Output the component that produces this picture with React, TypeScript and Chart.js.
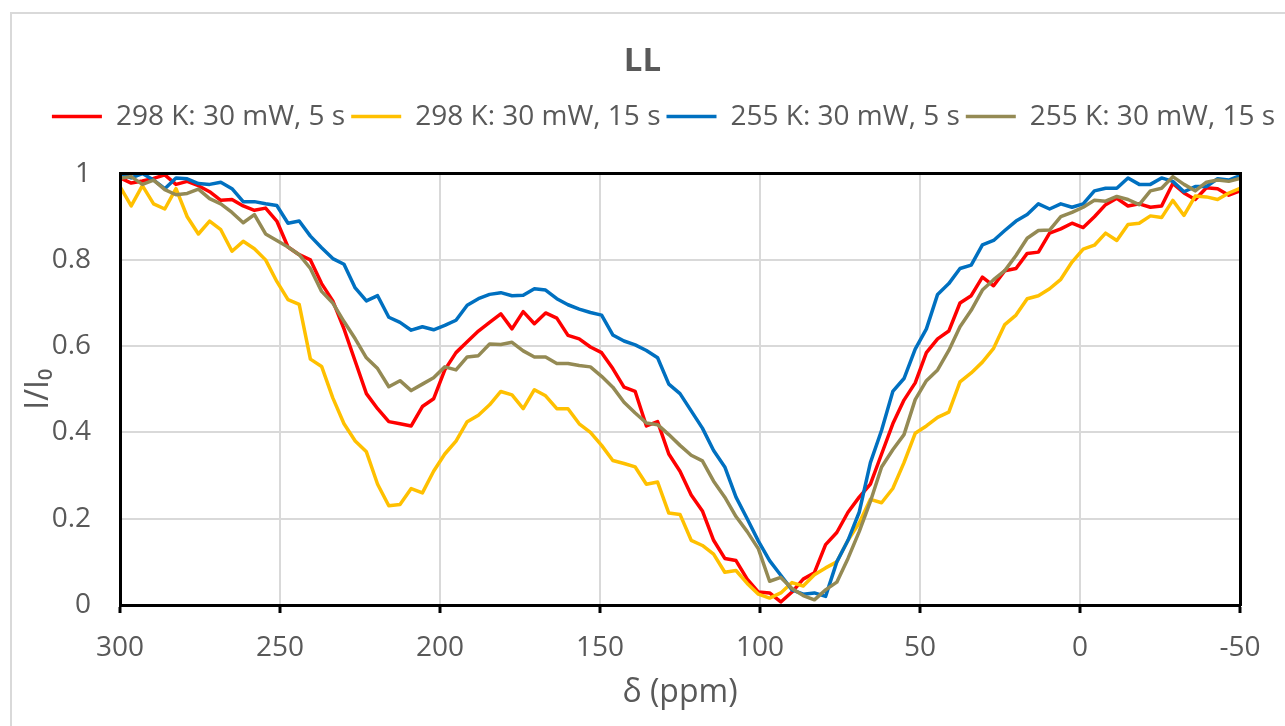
import { useEffect, useRef } from "react";
import { Chart, registerables } from "chart.js";

Chart.register(...registerables);
Chart.defaults.font.family = "'Open Sans', sans-serif";

// Chemical shift grid (ppm), high to low
const shifts = [
  300, 296.5, 293, 289.5, 286, 282.5, 279, 275.5, 272, 268.5,
  265, 261.5, 258, 254.5, 251, 247.5, 244, 240.5, 237, 233.5,
  230, 226.5, 223, 219.5, 216, 212.5, 209, 205.5, 202, 198.5,
  195, 191.5, 188, 184.5, 181, 177.5, 174, 170.5, 167, 163.5,
  160, 156.5, 153, 149.5, 146, 142.5, 139, 135.5, 132, 128.5,
  125, 121.5, 118, 114.5, 111, 107.5, 104, 100.5, 97, 93.5,
  90, 86.5, 83, 79.5, 76, 72.5, 69, 65.5, 62, 58.5,
  55, 51.5, 48, 44.5, 41, 37.5, 34, 30.5, 27, 23.5,
  20, 16.5, 13, 9.5, 6, 2.5, -1, -4.5, -8, -11.5,
  -15, -18.5, -22, -25.5, -29, -32.5, -36, -39.5, -43, -46.5,
  -50,
];

// I/I0 at 298 K, 30 mW, 5 s
const k298s5 = [
  0.99, 0.978, 0.983, 0.989, 0.997, 0.975, 0.982, 0.972, 0.958, 0.938,
  0.94, 0.925, 0.915, 0.92, 0.89, 0.83, 0.812, 0.8, 0.745, 0.705,
  0.64, 0.565, 0.49, 0.455, 0.425, 0.42, 0.415, 0.46, 0.478, 0.545,
  0.585, 0.61, 0.635, 0.655, 0.675, 0.64, 0.68, 0.652, 0.677, 0.665,
  0.625, 0.617, 0.598, 0.585, 0.548, 0.505, 0.495, 0.415, 0.425, 0.35,
  0.31, 0.255, 0.218, 0.15, 0.108, 0.103, 0.06, 0.03, 0.028, 0.007,
  0.03, 0.06, 0.075, 0.14, 0.168, 0.215, 0.25, 0.28, 0.35, 0.42,
  0.475, 0.515, 0.585, 0.617, 0.635, 0.7, 0.717, 0.76, 0.74, 0.775,
  0.78, 0.815, 0.818, 0.862, 0.872, 0.885, 0.875, 0.9, 0.928, 0.943,
  0.925, 0.93, 0.922, 0.925, 0.977, 0.955, 0.94, 0.967, 0.965, 0.95,
  0.96,
];

// I/I0 at 298 K, 30 mW, 15 s
const k298s15 = [
  0.97, 0.925, 0.972, 0.93, 0.918, 0.965, 0.9, 0.86, 0.89, 0.87,
  0.82, 0.843, 0.826, 0.8, 0.75, 0.708, 0.697, 0.57, 0.553, 0.48,
  0.42, 0.38, 0.355, 0.28, 0.23, 0.233, 0.27, 0.26, 0.31, 0.35,
  0.38, 0.425, 0.44, 0.464, 0.495, 0.487, 0.455, 0.499, 0.485, 0.455,
  0.455, 0.42, 0.4, 0.37, 0.335, 0.328, 0.32, 0.28, 0.285, 0.213,
  0.21, 0.15, 0.138, 0.118, 0.076, 0.08, 0.05, 0.025, 0.016, 0.028,
  0.052, 0.044, 0.07, 0.086, 0.1, 0.15, 0.19, 0.245, 0.237, 0.27,
  0.33, 0.398, 0.415, 0.435, 0.447, 0.517, 0.538, 0.563, 0.595, 0.65,
  0.672, 0.71, 0.717, 0.733, 0.755, 0.795, 0.825, 0.834, 0.862, 0.845,
  0.882, 0.885, 0.902, 0.898, 0.938, 0.903, 0.948, 0.946, 0.94, 0.955,
  0.966,
];

// I/I0 at 255 K, 30 mW, 5 s
const k255s5 = [
  1.0, 0.99, 1.0, 0.985, 0.965, 0.99, 0.988, 0.977, 0.975, 0.98,
  0.965, 0.935, 0.935, 0.93, 0.926, 0.885, 0.89, 0.855, 0.828, 0.803,
  0.79, 0.735, 0.705, 0.717, 0.667, 0.655, 0.637, 0.645, 0.638, 0.648,
  0.66, 0.695, 0.71, 0.72, 0.724, 0.717, 0.718, 0.733, 0.73, 0.71,
  0.696, 0.686, 0.678, 0.672, 0.626, 0.612, 0.603, 0.59, 0.573, 0.512,
  0.49, 0.45, 0.41, 0.358, 0.32, 0.25, 0.2, 0.148, 0.103, 0.069,
  0.035, 0.025, 0.028, 0.02, 0.1, 0.15, 0.215, 0.33, 0.405, 0.495,
  0.525, 0.593, 0.64, 0.72, 0.745, 0.78, 0.788, 0.835, 0.845, 0.868,
  0.89, 0.905, 0.93, 0.918, 0.93, 0.922, 0.93, 0.96, 0.966, 0.966,
  0.99, 0.975, 0.975, 0.99, 0.982, 0.958, 0.97, 0.97, 0.988, 0.985,
  0.995,
];

// I/I0 at 255 K, 30 mW, 15 s
const k255s15 = [
  0.989, 0.993, 0.975, 0.985, 0.963, 0.951, 0.954, 0.964, 0.942, 0.93,
  0.91, 0.886, 0.905, 0.86, 0.845, 0.83, 0.812, 0.78, 0.727, 0.7,
  0.657, 0.617, 0.573, 0.548, 0.506, 0.52, 0.497, 0.512, 0.527, 0.552,
  0.545, 0.575, 0.578, 0.605, 0.604, 0.609, 0.589, 0.575, 0.575, 0.56,
  0.56, 0.555, 0.552, 0.53, 0.505, 0.47, 0.445, 0.422, 0.418, 0.395,
  0.37, 0.347, 0.334, 0.287, 0.25, 0.205, 0.17, 0.13, 0.055, 0.064,
  0.038, 0.022, 0.012, 0.035, 0.053, 0.108, 0.17, 0.24, 0.32, 0.36,
  0.395, 0.476, 0.52, 0.545, 0.59, 0.645, 0.683, 0.73, 0.754, 0.775,
  0.81, 0.85, 0.868, 0.869, 0.9, 0.91, 0.922, 0.938, 0.936, 0.947,
  0.94, 0.928, 0.96, 0.966, 0.993, 0.975, 0.96, 0.98, 0.985, 0.982,
  0.989,
];

const seriesLabels = [
  "298 K: 30 mW, 5 s",
  "298 K: 30 mW, 15 s",
  "255 K: 30 mW, 5 s",
  "255 K: 30 mW, 15 s",
];
const seriesColors = ["#FF0000", "#FFC000", "#0070C0", "#948A54"];
const seriesValues = [k298s5, k298s15, k255s5, k255s15];

const TEXT = "#595959";
const GRID = "#d9d9d9";

// Nudges the legend row to the right of the canvas centre.
const legendShift = {
  id: "legendShift",
  afterLayout(chart: Chart) {
    const lg = chart.legend;
    if (lg) {
      lg.left += 21;
      lg.right += 21;
    }
  },
};

export default function App() {
  const ref = useRef<HTMLCanvasElement>(null);

  useEffect(() => {
    if (!ref.current) return;
    const datasets = seriesValues.map((vals, i) => ({
      label: seriesLabels[i],
      data: shifts.map((x, j) => ({ x, y: vals[j] })),
      borderColor: seriesColors[i],
      backgroundColor: seriesColors[i],
      borderWidth: 3.5,
      borderJoinStyle: "round" as const,
      borderCapStyle: "round" as const,
      pointRadius: 0,
      tension: 0,
      order: seriesValues.length - i,
    }));

    const chart = new Chart(ref.current, {
      type: "line",
      data: { datasets },
      plugins: [legendShift],
      options: {
        animation: false,
        responsive: false,
        devicePixelRatio: 1,
        layout: { padding: 0 },
        plugins: {
          tooltip: { enabled: false },
          title: {
            display: true,
            text: "LL",
            color: TEXT,
            font: { size: 33, weight: "bold" },
            padding: { top: 42, bottom: 15 },
          },
          legend: {
            display: true,
            position: "top",
            labels: {
              usePointStyle: true,
              pointStyle: "line",
              pointStyleWidth: 50,
              color: TEXT,
              font: { size: 28 },
              padding: 6,
              sort: (a, b) => (a.datasetIndex ?? 0) - (b.datasetIndex ?? 0),
            },
          },
        },
        scales: {
          x: {
            type: "linear",
            position: "bottom",
            reverse: true,
            min: -50,
            max: 300,
            ticks: { stepSize: 50, color: TEXT, font: { size: 28 }, padding: 18 },
            grid: { color: GRID, lineWidth: 2, tickColor: "#000", tickLength: 8, tickWidth: 3 },
            border: { color: "#000", width: 3, z: 1 },
            title: {
              display: true,
              text: "δ (ppm)",
              color: TEXT,
              font: { size: 32 },
              padding: { top: 0, bottom: 14 },
            },
            afterFit: (s) => {
              s.height = 121;
            },
          },
          xTop: {
            type: "linear",
            position: "top",
            reverse: true,
            min: -50,
            max: 300,
            ticks: { display: false },
            grid: { display: false },
            border: { color: "#000", width: 3, z: 1 },
            afterFit: (s) => {
              s.height = 33;
            },
          },
          y: {
            type: "linear",
            position: "left",
            min: 0,
            max: 1,
            ticks: {
              stepSize: 0.2,
              color: TEXT,
              font: { size: 28 },
              padding: 29,
              callback: (v) => String(parseFloat(Number(v).toFixed(1))),
            },
            grid: { color: GRID, lineWidth: 2, drawTicks: false },
            border: { color: "#000", width: 3, z: 1 },
            title: {
              display: true,
              text: "I/I₀",
              color: TEXT,
              font: { size: 32 },
              padding: { top: 20, bottom: 0 },
            },
            afterFit: (s) => {
              s.width = 120;
            },
          },
          yRight: {
            type: "linear",
            position: "right",
            min: 0,
            max: 1,
            ticks: { display: false },
            grid: { display: false },
            border: { color: "#000", width: 3, z: 1 },
            afterFit: (s) => {
              s.width = 45;
            },
          },
        },
      },
    });
    return () => chart.destroy();
  }, []);

  return (
    <div
      style={{
        position: "fixed",
        left: 0,
        top: 0,
        width: 1285,
        height: 726,
        overflow: "hidden",
        background: "#ffffff",
      }}
    >
      <div
        style={{
          position: "absolute",
          left: 10,
          top: 12,
          width: 1400,
          height: 900,
          borderLeft: "2px solid #d9d9d9",
          borderTop: "2px solid #d9d9d9",
        }}
      />
      <canvas
        ref={ref}
        width={1285}
        height={726}
        style={{ position: "absolute", left: 0, top: 0, width: 1285, height: 726 }}
      />
    </div>
  );
}
